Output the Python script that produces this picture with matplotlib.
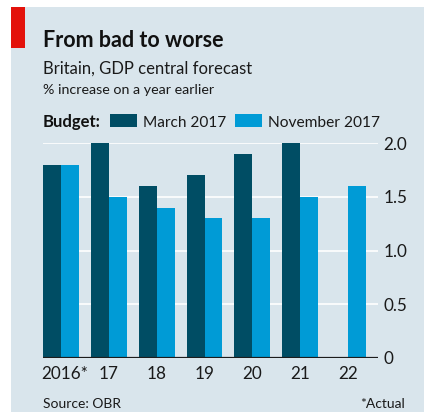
import matplotlib.pyplot as plt
import matplotlib.transforms as mtransforms
import numpy as np
from matplotlib.patches import Rectangle

years = ["2016*", "17", "18", "19", "20", "21", "22"]
march_2017 = [1.8, 2.0, 1.6, 1.7, 1.9, 2.0, np.nan]
november_2017 = [1.8, 1.5, 1.4, 1.3, 1.3, 1.5, 1.6]

dark = "#004d64"
light = "#009bd6"
bg = "#d9e5ec"

plt.rcParams["font.family"] = ["Lato", "DejaVu Sans"]

W, H = 424, 412
fig = plt.figure(figsize=(W / 100, H / 100), dpi=100, facecolor="white")
fig.patches.append(Rectangle((11 / W, 0), 1, 1 - 7 / H, transform=fig.transFigure,
                             facecolor=bg, edgecolor="none", zorder=-10))
fig.patches.append(Rectangle((11 / W, 1 - 48 / H), 14 / W, 41 / H, transform=fig.transFigure,
                             facecolor="#e3120b", edgecolor="none", zorder=-5))

ax = fig.add_axes([43 / W, (H - 358) / H, (378 - 43) / W, (358 - 143) / H])
ax.set_facecolor("none")
ax.set_zorder(2)

x = np.arange(len(years))
b = 0.375
ax.bar(x - b / 2, march_2017, width=b, color=dark, zorder=3)
ax.bar(x + b / 2, november_2017, width=b, color=light, zorder=3)

ax.set_xlim(-0.375, 6.625)
ax.set_ylim(0, 2.0)
ax.set_yticks([0, 0.5, 1.0, 1.5, 2.0])
ax.set_yticklabels(["0", "0.5", "1.0", "1.5", "2.0"])
ax.yaxis.tick_right()
ax.grid(axis="y", color="white", linewidth=1.2, zorder=1)
ax.axhline(0, color="#1c1c1c", linewidth=1.6, zorder=4)
for s in ax.spines.values():
    s.set_visible(False)
ax.tick_params(axis="y", length=0, pad=4, labelsize=12.3, labelcolor="#1a1a1a")
ax.set_xticks(x)
ax.set_xticklabels(years)
ax.tick_params(axis="x", length=0, pad=6, labelsize=12.3, labelcolor="#1a1a1a")
# nudge "2016*" right so the year sits over its bars
lab0 = ax.get_xticklabels()[0]
lab0.set_transform(lab0.get_transform() + mtransforms.ScaledTranslation(4 / 100, 0, fig.dpi_scale_trans))

fig.text(43 / W, 1 - 47 / H, "From bad to worse", fontsize=15.5, fontweight="bold",
         color="#111111", va="baseline")
fig.text(43 / W, 1 - 74 / H, "Britain, GDP central forecast", fontsize=12,
         color="#1a1a1a", va="baseline")
fig.text(43 / W, 1 - 94 / H, "% increase on a year earlier", fontsize=10.3,
         color="#1a1a1a", va="baseline")

fig.text(43 / W, 1 - 127 / H, "Budget:", fontsize=12, fontweight="bold",
         color="#111111", va="baseline")
fig.patches.append(Rectangle((110 / W, 1 - 127 / H), 27 / W, 13 / H, transform=fig.transFigure,
                             facecolor=dark, edgecolor="none"))
fig.text(143 / W, 1 - 127 / H, "March 2017", fontsize=11.1, color="#1a1a1a", va="baseline")
fig.patches.append(Rectangle((235 / W, 1 - 127 / H), 27 / W, 13 / H, transform=fig.transFigure,
                             facecolor=light, edgecolor="none"))
fig.text(268 / W, 1 - 127 / H, "November 2017", fontsize=11.2, color="#1a1a1a", va="baseline")

fig.text(43 / W, 1 - 408 / H, "Source: OBR", fontsize=10, color="#1a1a1a", va="baseline")
fig.text(405 / W, 1 - 408 / H, "*Actual", fontsize=10, color="#1a1a1a", va="baseline", ha="right")

fig.savefig("out.png", dpi=100, facecolor="white")
